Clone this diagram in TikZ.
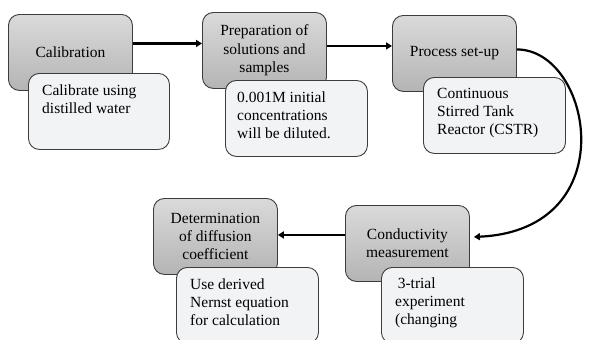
\documentclass[tikz,border=0pt]{standalone}
\usepackage{fontspec}
\setmainfont{Liberation Serif}
\newfontfamily\tnr{Liberation Serif}
\usetikzlibrary{arrows.meta,calc}
\definecolor{gtop}{HTML}{DADADA}
\definecolor{gbot}{HTML}{B4B4B4}
\definecolor{wfill}{HTML}{F2F3F5}
\definecolor{edge}{HTML}{3C3C3C}
\tikzset{
  graybox/.style={draw=edge, line width=0.9pt, rounded corners=11pt, top color=gtop, bottom color=gbot,
    minimum width=124pt, minimum height=76pt, anchor=north west, align=center, inner sep=0pt,
    font=\tnr\fontsize{15.5pt}{18.3pt}\selectfont, text=black},
  whitebox/.style={draw=edge, line width=0.9pt, rounded corners=11pt, fill=wfill,
    minimum width=142pt, minimum height=76pt, anchor=north west, inner sep=0pt},
  wtext/.style={anchor=north west, align=left, inner sep=0pt,
    font=\tnr\fontsize{15.5pt}{18pt}\selectfont, text=black},
  arr/.style={line width=2.2pt, -{Triangle[length=6pt,width=7pt]}}
}
\begin{document}
\begin{tikzpicture}[x=1pt,y=-1pt]
\useasboundingbox (0,0) rectangle (592,340);
\clip (0,0) rectangle (592,340);
% gray step boxes
\node[graybox] (g1) at (8,14) {Calibration};
\node[graybox] (g2) at (202,12) {Preparation of\\solutions and\\samples};
\node[graybox] (g3) at (392,15) {Process set-up};
\node[graybox] (g4) at (345,205) {Conductivity\\measurement};
\node[graybox] (g5) at (153,198) {Determination\\of diffusion\\coefficient};
% white detail boxes
\node[whitebox, minimum width=141pt] (w1) at (28,73) {};
\node[whitebox] (w2) at (225,80) {};
\node[whitebox] (w3) at (423,77) {};
\node[whitebox] (w4) at (381,267) {};
\node[whitebox] (w5) at (176,267) {};
\node[wtext] (t1) at ($(w1.north west)+(14,12)$) {Calibrate using\\distilled water};
\node[wtext] (t2) at ($(w2.north west)+(12,12)$) {0.001M initial\\concentrations\\will be diluted.};
\node[wtext] (t3) at ($(w3.north west)+(14,11)$) {Continuous\\Stirred Tank\\Reactor (CSTR)};
\node[wtext] (t4) at ($(w4.north west)+(14,11)$) {\,3-trial\\experiment\\(changing};
\node[wtext] (t5) at ($(w5.north west)+(14,12)$) {Use derived\\Nernst equation\\for calculation};
% connectors
\draw[arr] ([yshift=9pt]g1.east) -- ([yshift=9pt]g1.east -| g2.west);
\draw[arr] ([yshift=4.5pt]g2.east) -- ([yshift=4.5pt]g2.east -| g3.west);
\draw[arr] ([yshift=8.5pt]g4.west) -- ([yshift=8.5pt]g4.west -| g5.east);
\draw[arr] ([yshift=4pt]g3.east) .. controls +(75,0) and +(152,-7) .. ([xshift=4pt,yshift=6.5pt]g4.east);
\end{tikzpicture}
\end{document}
